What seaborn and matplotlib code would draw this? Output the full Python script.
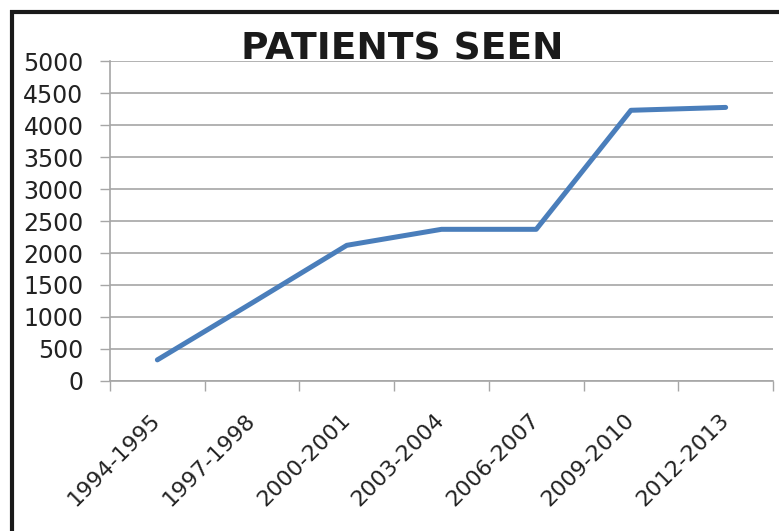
import seaborn as sns
import matplotlib.pyplot as plt
from matplotlib.lines import Line2D
from matplotlib.ticker import FixedLocator
import pandas as pd

periods = ["1994-1995", "1997-1998", "2000-2001", "2003-2004",
           "2006-2007", "2009-2010", "2012-2013"]
patients = [330, 1220, 2120, 2370, 2370, 4230, 4275]
yticks = list(range(0, 5001, 500))

sns.set_theme(style="white")
plt.rcParams["font.family"] = ["DejaVu Sans"]

df = pd.DataFrame({"period": periods, "patients": patients})

fig = plt.figure(figsize=(7.79, 5.31), dpi=100)
ax = fig.add_axes([0.1412, 0.2825, 0.8511, 0.6026])

sns.lineplot(data=df, x="period", y="patients", ax=ax,
             color="#4a7ebb", linewidth=3.6, sort=False)

ax.set_xlim(-0.5, len(periods) - 0.5)
ax.set_ylim(0, 5000)
ax.set_yticks(yticks)
ax.set_yticklabels([str(v) for v in yticks], fontsize=17, color="#222222")
ax.set_xticks(range(len(periods)))
ax.set_xticklabels(periods, fontsize=16, color="#222222",
                   rotation=45, ha="right", va="center", rotation_mode="anchor")
ax.xaxis.set_minor_locator(FixedLocator([i - 0.5 for i in range(len(periods) + 1)]))

ax.yaxis.grid(True, color="#a6a6a6", linewidth=1.2)
ax.set_axisbelow(True)
ax.tick_params(axis="y", which="major", direction="out", length=7,
               width=1, color="#a6a6a6", pad=12, left=True)
ax.tick_params(axis="x", which="major", length=0, pad=26)
ax.tick_params(axis="x", which="minor", direction="out", length=7,
               width=1, color="#a6a6a6", bottom=True)

for side in ["top", "right"]:
    ax.spines[side].set_visible(False)
for side in ["left", "bottom"]:
    ax.spines[side].set_color("#a6a6a6")
    ax.spines[side].set_linewidth(1.2)

ax.set_xlabel("")
ax.set_ylabel("")

fig.text(402 / 779, 1 - 60 / 531, "PATIENTS SEEN", fontsize=27,
         fontweight="bold", color="#1a1a1a", ha="center", va="baseline")

# black frame on the left and top edges
fig.add_artist(Line2D([11.5 / 779, 11.5 / 779], [0, 1 - 10 / 531],
                      transform=fig.transFigure, color="#1a1a1a", linewidth=3,
                      solid_capstyle="butt"))
fig.add_artist(Line2D([10 / 779, 1], [1 - 11.5 / 531, 1 - 11.5 / 531],
                      transform=fig.transFigure, color="#1a1a1a", linewidth=3,
                      solid_capstyle="butt"))

fig.savefig("out.png", dpi=100, facecolor="white")
